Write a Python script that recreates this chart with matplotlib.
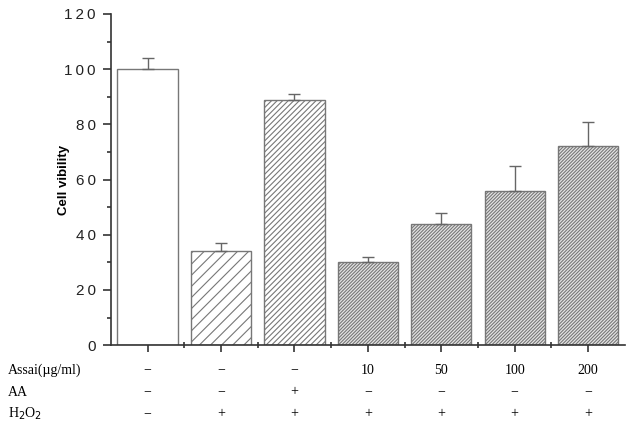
import numpy as np
import matplotlib
matplotlib.use("Agg")
from matplotlib import pyplot as plt

assai = ['−', '−', '−', '10', '50', '100', '200']
aa = ['−', '−', '+', '−', '−', '−', '−']
h2o2 = ['−', '+', '+', '+', '+', '+', '+']
values = [100, 34, 89, 30, 44, 56, 72]
errors = [4, 3, 2, 2, 4, 9, 9]
hatches = ['', '///', '//////', '//////////', '//////////', '//////////', '//////////']
fills = ['white', 'white', 'white', '#e4e4e4', '#e4e4e4', '#e4e4e4', '#e4e4e4']

plt.rcParams['hatch.linewidth'] = 0.8
plt.rcParams['hatch.color'] = '#777777'

fig = plt.figure(figsize=(6.37, 4.23), dpi=100)
ax = fig.add_axes([0.174, 0.184, 0.807, 0.783])

x = np.arange(len(values))
for i in x:
    ax.bar(i, values[i], width=0.82, color=fills[i], edgecolor='#777777',
           linewidth=1.0, hatch=hatches[i], zorder=2)
    ax.errorbar(i, values[i], yerr=[[0], [errors[i]]], fmt='none',
                ecolor='#666666', elinewidth=1.0, capsize=4.5, capthick=1.0, zorder=3)

ax.set_xlim(-0.5, 6.5)
ax.set_ylim(0, 120)
ax.spines['top'].set_visible(False)
ax.spines['right'].set_visible(False)
ax.spines['left'].set_color('#333333')
ax.spines['bottom'].set_color('#333333')
ax.spines['left'].set_linewidth(1.2)
ax.spines['bottom'].set_linewidth(1.2)

ax.set_yticks(np.arange(0, 121, 20))
ax.set_yticks(np.arange(10, 121, 20), minor=True)
ax.set_yticklabels(['\u2009'.join(str(v)) for v in range(0, 121, 20)],
                   fontsize=11, color='#222222', family='Liberation Sans')
ax.tick_params(axis='y', which='major', direction='out', length=6, width=1.2,
               color='#333333', pad=5)
ax.tick_params(axis='y', which='minor', direction='out', length=3, width=1.2,
               color='#333333')

ax.set_xticks(x)
ax.set_xticklabels([])
ax.set_xticks(np.arange(0.5, 6.5, 1), minor=True)
ax.tick_params(axis='x', which='major', direction='out', length=5, width=1.2,
               color='#333333')
ax.tick_params(axis='x', which='minor', direction='inout', length=5, width=1.2,
               color='#333333')

ax.set_ylabel('Cell vibility', fontsize=9.5, fontweight='bold',
              family='Liberation Sans')
ax.yaxis.set_label_coords(-0.08, 0.5)

rows = [('Assai(µg/ml)', assai), ('AA', aa), ('H$_2$O$_2$', h2o2)]
row_y = [370, 392, 414]
for (label, vals), py in zip(rows, row_y):
    yf = 1 - py / 423
    fig.text(8 / 637, yf, label, fontsize=10, family='Liberation Serif',
             va='center', ha='left')
    for i, v in enumerate(vals):
        xd = ax.transData.transform((i, 0))[0]
        fig.text(xd / 637, yf, v, fontsize=10, family='Liberation Serif',
                 va='center', ha='center')

fig.savefig('out.png', dpi=100)
